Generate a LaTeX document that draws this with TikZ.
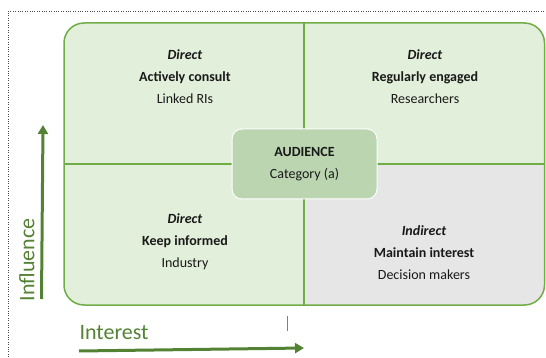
\documentclass[tikz,border=0pt]{standalone}
\usepackage{fontspec}
\setmainfont{Carlito}
\usepackage{xcolor}
\usetikzlibrary{positioning, arrows.meta}
\definecolor{quadgreen}{HTML}{E2EFDA}
\definecolor{quadgray}{HTML}{E7E6E6}
\definecolor{edgegreen}{HTML}{70AD47}
\definecolor{audgreen}{HTML}{BAD5B0}
\definecolor{axisgreen}{HTML}{548235}

\begin{document}
\begin{tikzpicture}[x=1pt, y=-1pt,
    quadtext/.style={align=center, font=\fontsize{14}{22}\selectfont, text=black!90},
    axistext/.style={font=\fontsize{22}{26}\selectfont, text=axisgreen},
    axisarrow/.style={line width=3pt, axisgreen, -{Triangle[width=10pt, length=9pt]}}]
    \useasboundingbox (0,0) rectangle (546,358);

    % Dotted frame
    \draw[dotted, black!70] (546,11) -- (8,11) -- (8,358);

    % Quadrants
    \fill[quadgreen, rounded corners=20pt] (64,23) rectangle (544.5,305);
    \begin{scope}
        \clip[rounded corners=20pt] (64,23) rectangle (544.5,305);
        \fill[quadgray] (304,164) rectangle (546,305);
    \end{scope}
    \draw[edgegreen, line width=1.3pt] (304,23) -- (304,305);
    \draw[edgegreen, line width=1.3pt] (64,164) -- (544.5,164);
    \draw[edgegreen, line width=1.5pt, rounded corners=20pt] (64,23) rectangle (544.5,305);

    % Centre box
    \node[fill=audgreen, draw=white, line width=1pt, rounded corners=10pt,
          minimum width=145pt, minimum height=70pt, quadtext] (aud) at (304.5,164)
          {\textbf{AUDIENCE}\\Category (a)};

    % Quadrant labels
    \node[quadtext] (tl) at (185,77) {\textbf{\textit{Direct}}\\\textbf{Actively consult}\\Linked RIs};
    \node[quadtext] (tr) at (425,77) {\textbf{\textit{Direct}}\\\textbf{Regularly engaged}\\Researchers};
    \node[quadtext] (bl) at (185,242) {\textbf{\textit{Direct}}\\\textbf{Keep informed}\\Industry};
    \node[quadtext] (br) at (424,253) {\textbf{\textit{Indirect}}\\\textbf{Maintain interest}\\Decision makers};

    % Axes
    \coordinate (inflow) at (41.5,299);
    \coordinate (infhigh) at (43,125);
    \draw[axisarrow] (inflow) -- (infhigh);
    \node[axistext, rotate=90] (influence) at (27,260) {Influence};

    \coordinate (intlow) at (79,351);
    \coordinate (inthigh) at (304,348);
    \draw[axisarrow] (intlow) -- (inthigh);
    \node[axistext, anchor=west] (interest) at (76,333) {Interest};

    % Tick
    \coordinate (ticktop) at (287,316);
    \coordinate (tickbot) at (287,331);
    \draw[black!50, line width=0.8pt] (ticktop) -- (tickbot);
\end{tikzpicture}
\end{document}
